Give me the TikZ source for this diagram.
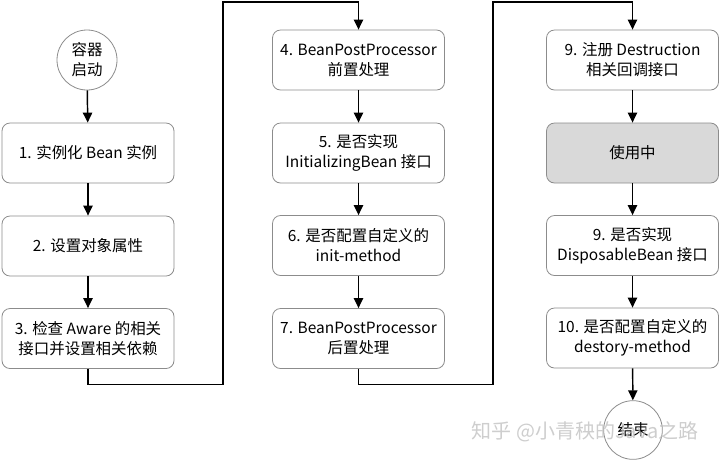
\documentclass[tikz,border=0pt]{standalone}
\usepackage{fontspec}
\setmainfont{Noto Sans CJK SC}
\usetikzlibrary{arrows.meta}
\definecolor{boxline}{HTML}{8C8C8C}
\definecolor{busyfill}{HTML}{D9D9D9}
\definecolor{markgray}{HTML}{BDBDBD}

\begin{document}
\begin{tikzpicture}[x=0.75pt,y=-0.75pt,font=\fontsize{11.6}{15}\selectfont,
  stage/.style={draw=boxline,fill=white,rounded corners=6pt,line width=0.6pt,
    minimum width=129pt,minimum height=45pt,align=center,inner sep=2pt},
  endpoint/.style={draw=boxline,fill=white,circle,line width=0.6pt,
    minimum size=44pt,inner sep=0pt,align=center},
  flow/.style={draw=black,line width=1.1pt,-{Triangle[length=7.5pt,width=7pt]}}]
\path[use as bounding box] (0,0) rectangle (720,462);

% Column 1: start-up and population
\node[endpoint,minimum size=45pt] (start) at (87,60) {容器\\启动};
\node[stage] (inst) at (88,153) {1. 实例化 Bean 实例};
\node[stage] (props) at (88,246) {2. 设置对象属性};
\node[stage] (aware) at (88,338.5) {3. 检查 Aware 的相关\\接口并设置相关依赖};

% Column 2: initialisation
\node[stage] (before) at (358.5,60) {4. BeanPostProcessor\\前置处理};
\node[stage] (initbean) at (358.5,153) {5. 是否实现\\InitializingBean 接口};
\node[stage] (initm) at (358.5,245.5) {6. 是否配置自定义的\\init-method};
\node[stage] (after) at (358.5,338.5) {7. BeanPostProcessor\\后置处理};

% Column 3: use and destruction
\node[stage] (register) at (632.5,60) {9. 注册 Destruction\\相关回调接口};
\node[stage,fill=busyfill] (inuse) at (632.5,153) {使用中};
\node[stage] (dispose) at (632.5,245.5) {9. 是否实现\\DisposableBean 接口};
\node[stage] (destroym) at (632.5,338) {10. 是否配置自定义的\\destory-method};
\node[endpoint] (stop) at (633,430) {结束};

\coordinate (bendA1) at (223,384.5);
\coordinate (bendA2) at (223,2);
\coordinate (bendB1) at (493,384.5);
\coordinate (bendB2) at (493,2);

\draw[flow] (start) -- (inst);
\draw[flow] (inst) -- (props);
\draw[flow] (props) -- (aware);
\draw[flow] (aware.south) |- (bendA1) -- (bendA2) -| (before.north);
\draw[flow] (before) -- (initbean);
\draw[flow] (initbean) -- (initm);
\draw[flow] (initm) -- (after);
\draw[flow] (after.south) |- (bendB1) -- (bendB2) -| (register.north);
\draw[flow] (register) -- (inuse);
\draw[flow] (inuse) -- (dispose);
\draw[flow] (dispose) -- (destroym);
\draw[flow] (destroym) -- (stop);

\node[anchor=east,text=markgray,opacity=0.75,font=\fontsize{15}{17}\selectfont]
  (mark) at (703,432) {知乎 @小青秧的Java之路};
\end{tikzpicture}
\end{document}
